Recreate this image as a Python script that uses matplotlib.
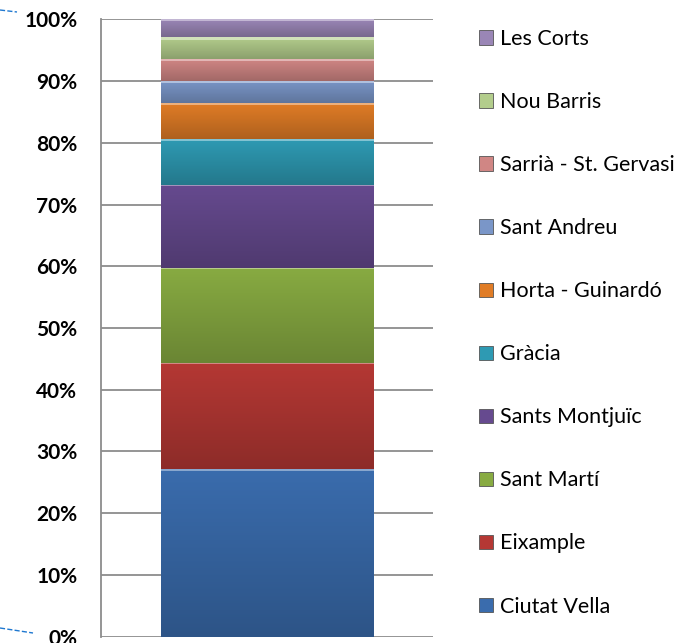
import numpy as np
import matplotlib
matplotlib.use('Agg')
import matplotlib.pyplot as plt
from matplotlib.lines import Line2D
from matplotlib.colors import to_rgb
from matplotlib.ticker import PercentFormatter

# districtes, de baix a dalt
districtes = ['Ciutat Vella', 'Eixample', 'Sant Martí', 'Sants Montjuïc', 'Gràcia',
              'Horta - Guinardó', 'Sant Andreu', 'Sarrià - St. Gervasi', 'Nou Barris', 'Les Corts']
percent = [27.1, 17.2, 15.4, 13.5, 7.4, 5.8, 3.65, 3.55, 3.5, 2.9]
colors = ['#3a6cad', '#b53834', '#88ab42', '#664a8f', '#2e9ab3',
          '#e07c26', '#7a96c8', '#d08684', '#b3cd8c', '#9a86b6']
yticks = [0, 10, 20, 30, 40, 50, 60, 70, 80, 90, 100]

plt.rcParams['font.family'] = ['Lato', 'DejaVu Sans']

fig = plt.figure(figsize=(6.89, 6.43), dpi=100)
ax = fig.add_axes([0.1466, 0.0098, 0.4818, 0.9602])

bottom = 0
bars = []
for name, val, c in zip(districtes, percent, colors):
    b = ax.bar(0, val, bottom=bottom, width=0.64, color=c, label=name,
               edgecolor='#555555', linewidth=0.6, zorder=3)
    bars.append(b)
    # degradat vertical dins de cada tram, amb una vora clara a dalt
    rgb = np.array(to_rgb(c))
    light = rgb + (1 - rgb) * 0.4
    dark = rgb * 0.78
    n = int(val * 20)
    t = np.linspace(0, 1, n)[:, None]
    grad = dark * (1 - t[..., None]) + rgb * t[..., None]
    grad[-8:] = light
    img = ax.imshow(grad, extent=(-0.32, 0.32, bottom, bottom + val), origin='lower',
                    aspect='auto', zorder=3.5, interpolation='nearest')
    img.set_clip_path(b.patches[0])
    bottom += val

ax.set_xlim(-0.5, 0.5)
ax.set_ylim(0, 100)
ax.set_yticks(yticks)
ax.yaxis.set_major_formatter(PercentFormatter(decimals=0))
ax.set_xticks([])
ax.grid(axis='y', color='#8c8c8c', linewidth=1.3, zorder=0)
for s in ['top', 'right', 'bottom']:
    ax.spines[s].set_visible(False)
ax.spines['left'].set_color('#8c8c8c')
ax.spines['left'].set_linewidth(1.3)
ax.tick_params(axis='y', length=0, pad=17, labelsize=15)
for lab in ax.get_yticklabels():
    lab.set_fontweight('bold')

handles = [b.patches[0] for b in bars][::-1]
labels = districtes[::-1]
fig.legend(handles, labels, loc='center left', bbox_to_anchor=(0.667, 0.498),
           frameon=False, fontsize=15.5, labelspacing=2.0, handlelength=0.65,
           handleheight=0.65, handletextpad=0.35)

# restes de línies blaves discontínues a la vora
fig.add_artist(Line2D([0, 17], [643 - 10, 643 - 12], transform=None, color='#1f78d0',
                      linestyle='--', linewidth=1))
fig.add_artist(Line2D([0, 33], [643 - 628, 643 - 633], transform=None, color='#1f78d0',
                      linestyle='--', linewidth=1))

fig.savefig('out.png', dpi=100)
